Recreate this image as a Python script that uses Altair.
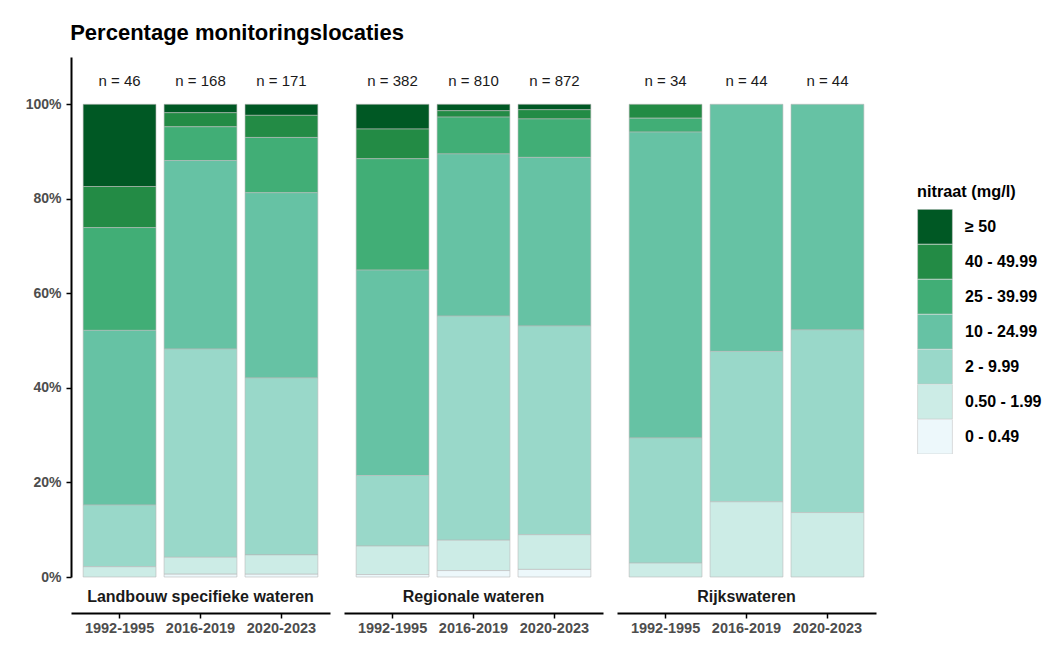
import altair as alt
import pandas as pd

groups = ["Landbouw specifieke wateren", "Regionale wateren", "Rijkswateren"]
periods = ["1992-1995", "2016-2019", "2020-2023"]
classes = ["≥ 50", "40 - 49.99", "25 - 39.99", "10 - 24.99", "2 - 9.99", "0.50 - 1.99", "0 - 0.49"]
colors = ["#005824", "#238b45", "#41ae76", "#66c2a4", "#99d8c9", "#ccece6", "#edf8fb"]

# number of monitoring locations per nitrate class (order as in `classes`)
landbouw = {
    "1992-1995": [8, 4, 10, 17, 6, 1, 0],
    "2016-2019": [3, 5, 12, 67, 74, 6, 1],
    "2020-2023": [4, 8, 20, 67, 64, 7, 1],
}
regionale = {
    "1992-1995": [20, 24, 90, 166, 57, 23, 2],
    "2016-2019": [11, 11, 63, 278, 384, 52, 11],
    "2020-2023": [10, 17, 71, 311, 385, 64, 14],
}
rijks = {
    "1992-1995": [0, 1, 1, 22, 9, 1, 0],
    "2016-2019": [0, 0, 0, 23, 14, 7, 0],
    "2020-2023": [0, 0, 0, 21, 17, 6, 0],
}

rows = []
for g, table in zip(groups, [landbouw, regionale, rijks]):
    for p in periods:
        for i, c in enumerate(classes):
            rows.append({"group": g, "period": p, "cls": c,
                         "count": table[p][i], "rank": len(classes) - 1 - i})
df = pd.DataFrame(rows)

FONT = "Liberation Sans"
W, H = 259, 520


def panel(g, first):
    base = alt.Chart(df).transform_filter(alt.datum.group == g)
    xenc = alt.X(
        "period:N", sort=periods,
        scale=alt.Scale(paddingInner=0.1, paddingOuter=0.15),
        axis=alt.Axis(title=None, labelAngle=0, offset=36, domainColor="black",
                      domainWidth=2, tickColor="black", tickWidth=1.5, tickSize=5,
                      labelFont=FONT, labelFontSize=14.5, labelFontWeight="bold",
                      labelColor="#4d4d4d", labelPadding=3, grid=False),
    )
    if first:
        yaxis = alt.Axis(title=None, values=[0, 0.2, 0.4, 0.6, 0.8, 1.0], format=".0%",
                         domainColor="black", domainWidth=2, tickColor="black",
                         tickWidth=1.5, tickSize=5, labelFont=FONT, labelFontSize=14,
                         labelFontWeight="bold", labelColor="#4d4d4d", labelPadding=5,
                         grid=False)
    else:
        yaxis = None
    yscale = alt.Scale(domain=[0, 1.1], nice=False, zero=True)
    bars = base.transform_filter(alt.datum.count > 0).mark_bar(
        stroke="#b8b8b8", strokeWidth=0.6
    ).encode(
        x=xenc,
        y=alt.Y("count:Q", stack="normalize", scale=yscale, axis=yaxis),
        color=alt.Color("cls:N", scale=alt.Scale(domain=classes, range=colors),
                        legend=alt.Legend(title="nitraat (mg/l)")),
        order=alt.Order("rank:Q", sort="ascending"),
    )
    ntext = base.transform_aggregate(
        n="sum(count)", groupby=["period"]
    ).transform_calculate(label='"n = " + datum.n').mark_text(
        font=FONT, fontSize=15, color="#1a1a1a", baseline="middle"
    ).encode(
        x=alt.X("period:N", sort=periods),
        y=alt.Y(datum=1.05, scale=yscale),
        text="label:N",
    )
    label = alt.Chart(pd.DataFrame({"group": [g]})).mark_text(
        font=FONT, fontSize=16, fontWeight="bold", color="#1a1a1a", baseline="middle"
    ).encode(x=alt.value(W / 2), y=alt.value(H + 19.5), text="group:N")
    return alt.layer(bars, ntext, label).properties(width=W, height=H)


chart = alt.hconcat(
    *[panel(g, i == 0) for i, g in enumerate(groups)], spacing=14
).properties(
    title=alt.TitleParams("Percentage monitoringslocaties", anchor="start",
                          font=FONT, fontSize=22, fontWeight="bold", color="black",
                          offset=12, dx=45),
    padding={"left": 17, "top": 14, "right": 5, "bottom": 5},
    background="white",
).configure_view(stroke=None).configure_legend(
    orient="none", legendX=846, legendY=127,
    symbolType="square", symbolSize=1210, symbolStrokeColor="#c4c4c4",
    symbolStrokeWidth=0.6, symbolOpacity=1, rowPadding=0, clipHeight=34.8,
    labelFont=FONT, labelFontSize=16, labelFontWeight="bold", labelColor="black",
    labelOffset=12, titleFont=FONT, titleFontSize=16.3, titleFontWeight="bold",
    titleColor="black", titlePadding=9,
)

chart.save("out.html", embed_options={"renderer": "svg", "actions": False})
